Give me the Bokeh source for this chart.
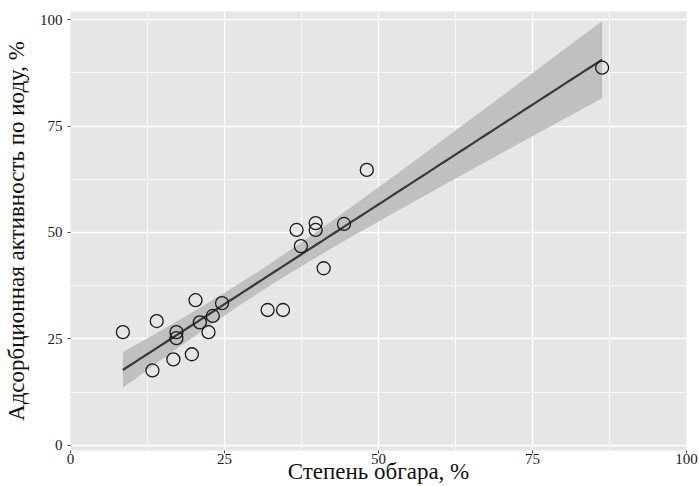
import numpy as np
from bokeh.plotting import figure
from bokeh.models import Range1d, FixedTicker
from bokeh.embed import file_html
from bokeh.resources import INLINE

# Data
burn_degree = [8.5, 13.3, 14.0, 16.7, 17.2, 17.2, 19.7, 20.3, 21.0, 22.4, 23.1,
               24.6, 32.0, 34.5, 36.7, 37.4, 39.8, 39.8, 41.1, 44.4, 48.1, 86.3]
iodine_activity = [26.6, 17.6, 29.2, 20.2, 26.6, 25.2, 21.4, 34.1, 28.9, 26.6, 30.4,
                   33.4, 31.8, 31.8, 50.6, 46.8, 52.2, 50.6, 41.6, 52.0, 64.7, 88.7]
tick_values = [0, 25, 50, 75, 100]
minor_values = [12.5, 37.5, 62.5, 87.5]

x = np.array(burn_degree)
y = np.array(iodine_activity)
n = len(x)
slope, intercept = np.polyfit(x, y, 1)
resid = y - (slope * x + intercept)
s = np.sqrt(np.sum(resid ** 2) / (n - 2))
sxx = np.sum((x - x.mean()) ** 2)
t_crit = 2.086  # t(0.975, df=20)
xs = np.linspace(x.min(), x.max(), 80)
fit = slope * xs + intercept
se = s * np.sqrt(1.0 / n + (xs - x.mean()) ** 2 / sxx)
lo = fit - t_crit * se
hi = fit + t_crit * se

FONT = "Liberation Serif"

p = figure(width=699, height=486, x_range=Range1d(0, 100), y_range=Range1d(-1.2, 101.9),
           output_backend="svg", toolbar_location=None,
           min_border_left=70, min_border_right=13, min_border_top=11, min_border_bottom=0)

p.background_fill_color = "#E6E6E6"
p.border_fill_color = "white"
p.outline_line_color = None

ticker = FixedTicker(ticks=tick_values, minor_ticks=minor_values)
p.xaxis.ticker = ticker
p.yaxis.ticker = ticker

for g in (p.xgrid, p.ygrid):
    g.grid_line_color = "white"
    g.grid_line_width = 1.3
    g.minor_grid_line_color = "white"
    g.minor_grid_line_width = 0.7

for ax in (p.xaxis, p.yaxis):
    ax.axis_line_color = None
    ax.major_tick_in = 0
    ax.major_tick_out = 3
    ax.major_tick_line_color = "#444444"
    ax.minor_tick_in = 0
    ax.minor_tick_out = 0
    ax.major_label_text_font = FONT
    ax.major_label_text_font_size = "15px"
    ax.major_label_text_color = "#1a1a1a"
    ax.axis_label_text_font = FONT
    ax.axis_label_text_font_size = "23px"
    ax.axis_label_text_font_style = "normal"
    ax.axis_label_text_color = "#111111"

p.xaxis.major_label_standoff = 0
p.xaxis.axis_label_standoff = -8
p.yaxis.major_label_standoff = 5
p.yaxis.axis_label_standoff = 8

p.xaxis.axis_label = "Степень обгара, %"
p.yaxis.axis_label = "Адсорбционная активность по иоду, %"

p.varea(x=xs, y1=lo, y2=hi, fill_color="#B8B8B8", fill_alpha=0.85)
p.line(xs, fit, line_color="#383838", line_width=2.2)
p.scatter(x=burn_degree, y=iodine_activity, marker="circle", size=13,
          fill_color=None, line_color="#1a1a1a", line_width=1.3)

open("out.html", "w").write(file_html(p, INLINE))
